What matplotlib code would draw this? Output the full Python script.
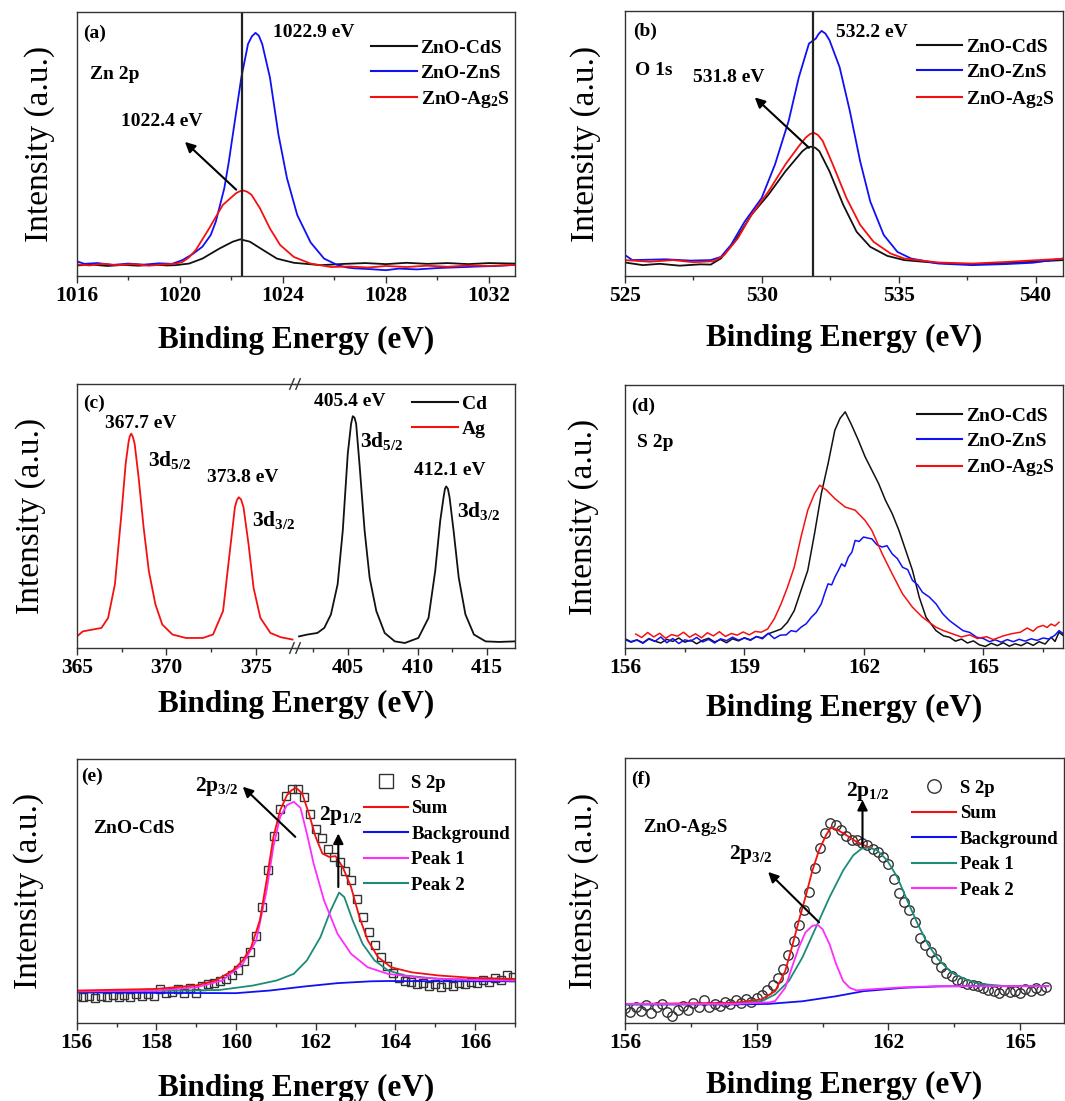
"""
XPS spectra of ZnO-CdS / ZnO-ZnS / ZnO-Ag2S, six panels (a)-(f).
Intensities are read off the published figure, in % of the panel height.
"""

import matplotlib
matplotlib.use("Agg")
import matplotlib.pyplot as plt
from matplotlib.lines import Line2D
from matplotlib.ticker import MultipleLocator

plt.rcParams["font.family"] = ["Liberation Serif", "DejaVu Serif"]
plt.rcParams["font.weight"] = "bold"
plt.rcParams["axes.labelweight"] = "bold"
plt.rcParams["mathtext.fontset"] = "custom"
plt.rcParams["mathtext.rm"] = "Liberation Serif:bold"
plt.rcParams["mathtext.it"] = "Liberation Serif:italic:bold"
plt.rcParams["mathtext.bf"] = "Liberation Serif:bold"

BLACK, BLUE, RED = "#111111", "#1010f5", "#f51010"
MAGENTA, TEAL = "#ff2cff", "#1e8a78"
AG2S = "ZnO-Ag$_{2}$S"

# ---- (a) Zn 2p ----
a_cds_x = [1016.0, 1016.6, 1017.2, 1017.8, 1018.4, 1019.0, 1019.5, 1019.83, 1020.36, 1020.88,
           1021.54, 1022.06, 1022.35, 1022.72, 1023.24, 1023.77, 1024.43, 1025.48, 1026.4, 1027.2,
           1028.0, 1028.8, 1029.6, 1030.4, 1031.2, 1032.0, 1033.0]
a_cds_y = [4.0, 4.3, 3.8, 4.2, 3.9, 4.3, 4.0, 4.1, 4.7, 6.6,
           10.4, 13.0, 13.9, 13.0, 9.8, 6.6, 5.0, 4.1, 4.6, 4.9,
           4.5, 5.0, 4.6, 4.9, 4.5, 4.9, 4.7]
a_zns_x = [1016.0, 1016.3, 1016.8, 1017.4, 1018.0, 1018.6, 1019.2, 1019.7, 1020.1, 1020.5,
           1020.88, 1021.2, 1021.4, 1021.73, 1021.9, 1022.06, 1022.39, 1022.65, 1022.8, 1022.94,
           1023.07, 1023.2, 1023.5, 1023.83, 1024.16, 1024.56, 1025.08, 1025.6, 1026.13, 1026.5,
           1026.8, 1027.4, 1028.0, 1028.5, 1029.2, 1030.0, 1030.8, 1031.6, 1032.3, 1033.0]
a_zns_y = [5.6, 4.6, 4.9, 4.2, 4.7, 4.3, 4.8, 4.6, 6.0, 8.3,
           11.1, 15.5, 20.6, 33.3, 43.0, 53.6, 75.2, 87.9, 90.8, 92.1,
           91.0, 87.9, 75.2, 53.6, 37.1, 23.1, 12.7, 6.6, 4.1, 3.2,
           2.9, 2.6, 2.2, 2.8, 2.5, 3.0, 3.3, 3.6, 3.8, 4.2]
a_ags_x = [1016.0, 1016.5, 1017.0, 1017.6, 1018.2, 1018.8, 1019.4, 1019.8, 1020.1, 1020.35,
           1020.62, 1021.14, 1021.67, 1022.19, 1022.33, 1022.46, 1022.62, 1022.78, 1023.11, 1023.5,
           1023.9, 1024.43, 1025.08, 1025.87, 1026.6, 1027.3, 1028.0, 1028.8, 1029.6, 1030.4,
           1031.2, 1032.0, 1033.0]
a_ags_y = [4.4, 4.0, 4.6, 4.1, 4.5, 3.9, 4.4, 4.6, 5.3, 7.0,
           9.8, 18.0, 26.9, 31.4, 32.1, 32.4, 31.9, 30.8, 25.7, 18.0,
           11.7, 7.2, 4.7, 3.4, 3.6, 3.2, 3.8, 3.4, 3.9, 3.5,
           4.0, 3.8, 4.2]

# ---- (b) O 1s ----
b_cds_x = [525.0, 525.65, 526.27, 527.0, 527.75, 528.13, 528.5, 529.0, 529.62, 530.24,
           530.86, 531.48, 531.63, 531.79, 531.95, 532.1, 532.47, 532.97, 533.46, 533.96,
           534.58, 535.2, 536.44, 537.68, 538.92, 539.9, 541.0]
b_cds_y = [5.1, 4.1, 4.6, 3.9, 4.4, 4.3, 6.6, 12.9, 23.1, 30.7,
           39.5, 47.1, 48.3, 48.8, 48.4, 47.1, 39.5, 26.9, 16.7, 11.0,
           7.6, 6.0, 4.9, 4.4, 4.9, 5.4, 6.0]
b_zns_x = [525.0, 525.27, 526.5, 527.4, 528.13, 528.5, 528.87, 529.37, 529.99, 530.48,
           530.98, 531.35, 531.72, 531.97, 532.07, 532.18, 532.32, 532.47, 532.84, 533.21,
           533.59, 533.96, 534.45, 534.95, 535.45, 536.44, 537.68, 538.92, 539.9, 541.0]
b_zns_y = [7.9, 6.0, 6.3, 5.8, 6.0, 7.2, 11.7, 20.5, 29.4, 42.1,
           58.6, 75.0, 87.7, 89.6, 91.3, 92.5, 91.5, 89.0, 78.8, 62.4,
           43.3, 28.1, 15.5, 9.1, 6.6, 4.7, 4.1, 4.5, 5.0, 6.6]
b_ags_x = [525.0, 525.9, 526.76, 527.5, 528.25, 528.62, 529.12, 529.62, 530.24, 530.86,
           531.35, 531.6, 531.75, 531.89, 532.05, 532.22, 532.59, 533.09, 533.59, 534.08,
           534.7, 535.2, 536.44, 537.68, 538.92, 539.9, 541.0]
b_ags_y = [6.0, 5.4, 6.0, 5.2, 5.6, 7.9, 14.2, 23.1, 31.9, 42.1,
           49.0, 52.2, 53.5, 54.1, 53.2, 51.0, 42.1, 29.4, 19.3, 12.9,
           8.5, 6.6, 5.1, 4.7, 5.3, 5.9, 6.5]

# ---- (c) Ag 3d (left of break) and Cd 3d (right of break) ----
c_ag_x = [365.02, 365.34, 366.38, 366.75, 367.13, 367.51, 367.73, 367.89, 367.96, 368.04,
          368.13, 368.23, 368.45, 368.73, 369.02, 369.39, 369.77, 370.34, 371.09, 372.03,
          372.6, 373.16, 373.54, 373.82, 373.93, 374.03, 374.16, 374.3, 374.58, 374.86,
          375.24, 375.8, 376.37, 377.03]
c_ag_y = [4.4, 6.3, 7.6, 11.4, 24.1, 52.0, 69.8, 78.0, 80.2, 81.2,
          80.0, 77.4, 64.7, 45.7, 29.2, 16.5, 8.9, 5.1, 3.8, 3.8,
          5.1, 14.0, 36.8, 53.3, 56.0, 57.1, 56.3, 53.3, 39.3, 22.8,
          11.4, 5.7, 4.1, 3.2]
c_cd_x = [401.49, 402.09, 402.81, 403.3, 403.78, 404.26, 404.63, 404.99, 405.23, 405.35,
          405.47, 405.59, 405.83, 406.2, 406.56, 407.04, 407.64, 408.37, 409.09, 410.06,
          410.79, 411.27, 411.63, 411.87, 411.97, 412.06, 412.18, 412.3, 412.59, 412.96,
          413.44, 414.05, 414.89, 415.86, 416.96]
c_cd_y = [4.4, 5.1, 5.7, 7.6, 12.7, 24.1, 44.4, 73.6, 85.0, 87.8,
          87.3, 85.0, 69.8, 44.4, 26.6, 14.0, 5.7, 2.5, 1.9, 3.8,
          11.4, 29.2, 48.2, 57.1, 60.3, 61.2, 60.3, 57.1, 44.4, 26.6,
          12.7, 5.1, 2.5, 2.3, 2.5]

# ---- (d) S 2p ----
d_cds_x = [156.0, 156.15, 156.3, 156.45, 156.6, 156.75, 156.9, 157.05, 157.2, 157.35,
           157.5, 157.65, 157.8, 157.95, 158.1, 158.25, 158.4, 158.55, 158.7, 158.85,
           159.0, 159.15, 159.3, 159.45, 159.58, 159.92, 160.08, 160.25, 160.42, 160.59,
           160.76, 160.93, 161.1, 161.27, 161.4, 161.53, 161.69, 161.86, 162.03, 162.2,
           162.37, 162.54, 162.71, 162.88, 163.05, 163.22, 163.39, 163.56, 163.81, 164.0,
           164.15, 164.3, 164.45, 164.6, 164.75, 164.9, 165.05, 165.2, 165.35, 165.5,
           165.65, 165.8, 165.95, 166.1, 166.25, 166.4, 166.55, 166.7, 166.8, 166.9, 167.0]
d_cds_y = [3.5, 2.4, 3.1, 2.0, 3.6, 2.6, 1.9, 3.3, 2.5, 3.8,
           2.2, 3.0, 1.6, 2.9, 3.7, 2.3, 3.2, 2.0, 3.5, 2.7,
           3.9, 3.1, 4.3, 3.8, 5.3, 7.2, 9.8, 14.2, 21.9, 29.5,
           43.5, 58.7, 70.1, 82.8, 87.3, 89.8, 84.8, 79.0, 72.7, 67.6,
           62.5, 56.2, 51.1, 44.7, 37.1, 29.5, 19.3, 11.7, 6.6, 4.6,
           4.1, 2.6, 3.4, 1.9, 2.7, 1.2, 0.6, 1.8, 0.9, 2.0,
           0.7, 1.6, 0.9, 2.1, 1.0, 2.4, 1.5, 4.1, 2.5, 6.0, 4.8]
d_zns_x = [156.0, 156.15, 156.3, 156.45, 156.6, 156.75, 156.9, 157.05, 157.2, 157.35,
           157.5, 157.65, 157.8, 157.95, 158.1, 158.25, 158.4, 158.55, 158.7, 158.85,
           159.0, 159.15, 159.3, 159.45, 159.6, 159.75, 159.9, 160.05, 160.17, 160.3,
           160.42, 160.55, 160.68, 160.8, 160.93, 161.02, 161.1, 161.19, 161.27, 161.36,
           161.44, 161.52, 161.61, 161.7, 161.78, 161.88, 161.99, 162.1, 162.2, 162.33,
           162.46, 162.58, 162.71, 162.84, 162.97, 163.1, 163.22, 163.35, 163.47, 163.64,
           163.81, 163.98, 164.15, 164.32, 164.49, 164.66, 164.83, 165.0, 165.15, 165.3,
           165.45, 165.6, 165.75, 165.9, 166.05, 166.2, 166.35, 166.5, 166.65, 166.8,
           166.9, 167.0]
d_zns_y = [3.2, 2.2, 3.0, 1.8, 3.4, 2.5, 4.2, 2.0, 3.6, 1.7,
           3.1, 2.6, 4.0, 2.3, 3.3, 1.9, 3.5, 2.8, 4.1, 3.0,
           3.8, 2.9, 4.4, 3.5, 5.6, 3.6, 4.9, 5.0, 6.6, 6.2,
           7.9, 9.2, 11.7, 13.5, 16.8, 21.0, 24.4, 24.0, 26.9, 29.5,
           32.0, 31.0, 34.6, 36.5, 40.9, 40.5, 42.2, 41.8, 41.5, 39.2,
           38.4, 38.9, 35.8, 34.0, 30.7, 29.8, 25.7, 24.0, 21.2, 19.4,
           16.8, 13.0, 10.4, 8.5, 6.6, 5.9, 4.1, 3.6, 2.4, 3.1,
           2.2, 3.2, 2.4, 3.3, 2.6, 3.5, 2.9, 3.8, 3.4, 4.9,
           6.6, 5.5]
d_ags_x = [156.27, 156.42, 156.57, 156.72, 156.87, 157.02, 157.17, 157.32, 157.47, 157.62,
           157.77, 157.92, 158.07, 158.22, 158.37, 158.52, 158.67, 158.82, 158.97, 159.12,
           159.27, 159.42, 159.58, 159.75, 159.92, 160.08, 160.25, 160.42, 160.59, 160.76,
           160.89, 161.06, 161.27, 161.53, 161.78, 162.03, 162.2, 162.46, 162.71, 162.97,
           163.22, 163.47, 163.81, 164.0, 164.24, 164.45, 164.66, 164.85, 165.08, 165.25,
           165.5, 165.7, 165.93, 166.1, 166.25, 166.36, 166.5, 166.6, 166.7, 166.8, 166.9]
d_ags_y = [5.3, 4.0, 5.9, 4.2, 5.6, 3.7, 5.1, 4.5, 6.0, 4.1,
           5.4, 3.9, 5.8, 4.6, 6.2, 4.4, 5.5, 4.9, 6.1, 5.0,
           6.3, 6.0, 7.2, 11.1, 16.8, 23.1, 30.7, 42.2, 52.4, 58.7,
           61.9, 60.0, 56.8, 53.6, 52.4, 48.5, 44.7, 35.8, 28.2, 20.6,
           15.5, 11.7, 7.9, 6.6, 5.3, 4.2, 5.0, 3.6, 4.3, 3.2,
           4.6, 5.4, 6.0, 7.6, 6.4, 7.9, 8.6, 7.8, 9.1, 8.4, 9.8]

# ---- (e) ZnO-CdS S 2p fit ----
e_meas_x = [156.0 + 0.15 * i for i in range(74)]
e_meas_y = [10.3, 9.8, 10.1, 9.6, 10.4, 9.9, 10.6, 10.0, 10.5, 9.7,
            10.8, 10.2, 11.0, 10.4, 13.0, 11.2, 11.8, 12.8, 11.5, 13.2,
            11.4, 14.0, 14.6, 15.3, 16.0, 16.8, 18.2, 20.0, 23.5, 27.0,
            33.0, 44.0, 58.0, 71.0, 81.0, 86.0, 88.5, 88.8, 85.7, 79.0,
            73.5, 70.0, 66.0, 63.0, 61.0, 57.5, 54.0, 47.0, 40.0, 34.5,
            29.5, 25.0, 21.5, 19.0, 17.0, 16.0, 15.4, 14.6, 15.2, 14.0,
            14.6, 13.8, 14.8, 14.1, 15.0, 14.6, 15.5, 15.1, 16.2, 15.6,
            17.0, 16.4, 18.2, 17.4]
e_sum_x = [156.0, 157.97, 158.99, 159.49, 159.92, 160.17, 160.38, 160.6, 160.77, 160.94,
           161.11, 161.28, 161.4, 161.51, 161.66, 161.83, 162.0, 162.17, 162.34, 162.5,
           162.68, 162.89, 163.1, 163.31, 163.57, 163.9, 164.41, 165.09, 165.94, 167.0]
e_sum_y = [12.3, 12.9, 14.2, 16.1, 19.9, 23.7, 28.7, 38.9, 54.1, 70.5,
           80.6, 86.3, 88.2, 89.1, 87.0, 79.4, 70.5, 64.2, 62.9, 63.2,
           59.1, 51.5, 40.1, 31.3, 24.9, 21.1, 19.2, 18.0, 17.1, 16.7]
e_bg_x = [156.0, 158.0, 160.0, 160.85, 161.7, 162.55, 163.4, 163.82, 165.0, 167.0]
e_bg_y = [11.6, 11.4, 11.3, 12.3, 13.8, 15.1, 15.8, 15.9, 15.8, 15.8]
e_p1_x = [156.0, 157.97, 158.99, 159.66, 160.17, 160.51, 160.77, 160.94, 161.11, 161.28,
          161.45, 161.62, 161.78, 161.95, 162.21, 162.55, 162.89, 163.31, 163.82, 164.67,
          165.94, 167.0]
e_p1_y = [12.0, 12.3, 13.5, 16.1, 22.4, 31.3, 50.3, 66.8, 78.1, 82.5,
          83.8, 81.5, 71.8, 60.4, 46.5, 33.8, 26.2, 21.1, 18.6, 17.1,
          16.3, 16.1]
e_p2_x = [156.0, 158.31, 159.58, 160.43, 161.02, 161.45, 161.78, 162.12, 162.38, 162.59,
          162.72, 162.93, 163.18, 163.48, 163.82, 164.24, 165.09, 167.0]
e_p2_y = [12.0, 12.2, 12.5, 14.2, 16.1, 18.6, 23.7, 32.5, 42.7, 49.4,
          47.7, 38.9, 30.0, 23.7, 19.9, 18.0, 16.7, 16.1]

# ---- (f) ZnO-Ag2S S 2p fit ----
f_meas_x = [156.0 + 0.12 * i for i in range(81)]
f_meas_y = [5.5, 4.0, 6.2, 4.6, 6.8, 3.8, 5.9, 7.1, 4.3, 2.6,
            5.0, 6.6, 4.8, 7.6, 5.9, 8.6, 6.2, 7.3, 6.4, 8.1,
            7.0, 8.8, 7.4, 9.0, 7.8, 9.6, 10.4, 12.3, 14.5, 17.0,
            20.3, 25.5, 30.8, 37.0, 42.8, 49.5, 58.5, 66.0, 71.8, 75.5,
            74.8, 73.0, 70.5, 69.0, 69.2, 68.0, 67.2, 65.8, 64.5, 62.8,
            60.0, 54.5, 49.0, 45.5, 42.5, 38.0, 32.0, 29.5, 26.8, 24.0,
            21.2, 19.0, 17.8, 16.2, 15.5, 14.8, 14.4, 13.9, 13.2, 12.6,
            11.9, 11.3, 12.5, 11.6, 12.2, 11.4, 12.8, 12.0, 13.2, 12.6,
            13.6]
f_sum_x = [156.0, 158.49, 159.11, 159.42, 159.65, 159.8, 159.96, 160.11, 160.27, 160.42,
           160.58, 160.69, 160.85, 161.04, 161.27, 161.5, 161.6]
f_sum_y = [7.2, 7.6, 8.9, 12.0, 19.6, 28.5, 38.6, 47.5, 57.6, 65.2,
           70.9, 73.8, 72.8, 70.9, 68.4, 66.7, 66.2]
f_bg_x = [156.0, 158.49, 159.26, 160.04, 160.81, 161.43, 162.36, 163.13, 163.9, 165.64]
f_bg_y = [7.0, 7.0, 7.2, 8.2, 10.1, 12.0, 13.3, 13.8, 13.9, 13.9]
f_p1_x = [156.0, 158.49, 159.11, 159.42, 159.73, 160.04, 160.35, 160.66, 160.97, 161.2,
          161.39, 161.55, 161.74, 161.97, 162.2, 162.43, 162.67, 162.9, 163.13, 163.44,
          163.75, 164.06, 164.68, 165.64]
f_p1_y = [7.0, 7.2, 8.2, 10.8, 15.8, 24.7, 36.1, 47.5, 57.6, 63.3,
          65.8, 66.2, 65.2, 61.4, 55.1, 46.2, 37.3, 29.7, 24.1, 19.0,
          16.5, 14.8, 13.9, 13.9]
f_p2_x = [156.0, 158.49, 159.3, 159.42, 159.65, 159.8, 159.96, 160.11, 160.27, 160.39,
          160.5, 160.66, 160.81, 160.97, 161.12, 161.27, 161.58, 162.36, 163.13, 163.9,
          165.64]
f_p2_y = [7.2, 7.2, 7.8, 8.3, 13.3, 20.9, 28.5, 34.2, 36.7, 37.0,
          35.4, 29.7, 22.2, 15.8, 13.3, 12.3, 12.7, 13.5, 13.9, 13.9,
          13.9]


def W(px):
    return px / 1065.0


def H(px):
    return px / 1101.0


def frame(ax, xlim, major, minor):
    ax.set_xlim(*xlim)
    ax.set_ylim(0, 100)
    ax.set_yticks([])
    ax.xaxis.set_major_locator(MultipleLocator(major))
    ax.xaxis.set_minor_locator(MultipleLocator(minor))
    ax.tick_params(axis="x", which="major", direction="out", length=5, width=1,
                   labelsize=15.5, pad=2, color="#333333")
    ax.tick_params(axis="x", which="minor", direction="out", length=3, width=1,
                   color="#333333")
    for s in ax.spines.values():
        s.set_linewidth(1.0)
        s.set_color("#333333")


def labels(ax, xlab_y, ylab_x):
    ax.set_xlabel("Binding Energy (eV)", fontsize=22.5)
    ax.xaxis.set_label_coords(0.5, xlab_y)
    ax.set_ylabel("Intensity (a.u.)", fontsize=24, fontweight="normal")
    ax.yaxis.set_label_coords(ylab_x, 0.5)


def legend(ax, entries, x0, ytop, size=14, gap=0.38):
    handles = [h for h, _ in entries]
    names = [n for _, n in entries]
    ax.legend(handles, names, loc="upper left", bbox_to_anchor=(x0, ytop),
              frameon=False, fontsize=size, handlelength=2.35, handletextpad=0.2,
              labelspacing=gap, borderpad=0, borderaxespad=0)


def line(color):
    return Line2D([], [], color=color, lw=1.5)


def arrow(ax, tail, head):
    ax.annotate("", xy=head, xytext=tail,
                arrowprops=dict(arrowstyle="-|>", color="k", lw=1.5,
                                mutation_scale=15, shrinkA=0, shrinkB=0))


LW = 1.3
fig = plt.figure(figsize=(10.65, 11.01), dpi=100)

# (a)
ax = fig.add_axes([W(76.7), 1 - H(276), W(438), H(264)])
frame(ax, (1016, 1033), 4, 2)
ax.plot(a_cds_x, a_cds_y, color=BLACK, lw=LW)
ax.plot(a_zns_x, a_zns_y, color=BLUE, lw=LW)
ax.plot(a_ags_x, a_ags_y, color=RED, lw=LW)
ax.axvline(1022.4, color="#222222", lw=1.6)
arrow(ax, (1022.19, 32.7), (1020.2, 50.8))
ax.text(1016.25, 92.0, "(a)", fontsize=14, va="center")
ax.text(1016.5, 76.5, "Zn 2p", fontsize=14, va="center")
ax.text(1019.3, 58.7, "1022.4 eV", fontsize=14, va="center", ha="center")
ax.text(1025.2, 92.1, "1022.9 eV", fontsize=14, va="center", ha="center")
legend(ax, [(line(BLACK), "ZnO-CdS"), (line(BLUE), "ZnO-ZnS"), (line(RED), AG2S)],
       0.672, 0.898)
labels(ax, -0.188, -0.05)

# (b)
ax = fig.add_axes([W(625), 1 - H(276), W(438), H(265)])
frame(ax, (525, 541), 5, 2.5)
ax.plot(b_cds_x, b_cds_y, color=BLACK, lw=LW)
ax.plot(b_zns_x, b_zns_y, color=BLUE, lw=LW)
ax.plot(b_ags_x, b_ags_y, color=RED, lw=LW)
ax.axvline(531.87, color="#222222", lw=1.6)
arrow(ax, (531.72, 48.4), (529.74, 67.4))
ax.text(525.3, 92.4, "(b)", fontsize=14, va="center")
ax.text(525.35, 77.6, "O 1s", fontsize=14, va="center")
ax.text(528.8, 74.8, "531.8 eV", fontsize=14, va="center", ha="center")
ax.text(534.0, 91.9, "532.2 eV", fontsize=14, va="center", ha="center")
legend(ax, [(line(BLACK), "ZnO-CdS"), (line(BLUE), "ZnO-ZnS"), (line(RED), AG2S)],
       0.666, 0.896)
labels(ax, -0.181, -0.055)

# (c) broken axis: two axes side by side
axl = fig.add_axes([W(76.7), 1 - H(648), W(295 - 76.7), H(264)])
axr = fig.add_axes([W(295), 1 - H(648), W(515 - 295), H(264)])
frame(axl, (365, 377.17), 5, 2.5)
frame(axr, (401.2, 417), 5, 2.5)
axl.spines["right"].set_visible(False)
axr.spines["left"].set_visible(False)
axr.patch.set_visible(False)
axl.plot(c_ag_x, c_ag_y, color=RED, lw=LW)
axr.plot(c_cd_x, c_cd_y, color=BLACK, lw=LW)
for off in (-0.014, 0.014):
    for yb in (0, 1):
        axr.plot([off - 0.01, off + 0.01], [yb - 0.02, yb + 0.02], transform=axr.transAxes,
                 color="#333333", lw=1, clip_on=False)
axl.text(365.35, 92.6, "(c)", fontsize=14, va="center")
axl.text(368.55, 85.0, "367.7 eV", fontsize=14, va="center", ha="center")
axl.text(369.0, 71.1, "3d$_{5/2}$", fontsize=15.5, va="center")
axl.text(374.26, 64.5, "373.8 eV", fontsize=14, va="center", ha="center")
axl.text(374.77, 48.6, "3d$_{3/2}$", fontsize=15.5, va="center")
axr.text(405.11, 93.3, "405.4 eV", fontsize=14, va="center", ha="center")
axr.text(405.9, 78.4, "3d$_{5/2}$", fontsize=15.5, va="center")
axr.text(412.35, 67.3, "412.1 eV", fontsize=14, va="center", ha="center")
axr.text(412.83, 51.8, "3d$_{3/2}$", fontsize=15.5, va="center")
legend(axr, [(line(BLACK), "Cd"), (line(RED), "Ag")], 0.532, 0.956)
axl.set_ylabel("Intensity (a.u.)", fontsize=24, fontweight="normal")
axl.yaxis.set_label_coords(-0.141, 0.5)
fig.text(W(296), 1 - H(704.6), "Binding Energy (eV)", fontsize=22.5, ha="center",
         va="center")

# (d)
ax = fig.add_axes([W(625), 1 - H(648), W(438), H(263)])
frame(ax, (156, 167), 3, 1.5)
ax.plot(d_cds_x, d_cds_y, color=BLACK, lw=1.1)
ax.plot(d_zns_x, d_zns_y, color=BLUE, lw=1.1)
ax.plot(d_ags_x, d_ags_y, color=RED, lw=1.1)
ax.text(156.15, 92.0, "(d)", fontsize=14, va="center")
ax.text(156.3, 78.0, "S 2p", fontsize=14, va="center")
legend(ax, [(line(BLACK), "ZnO-CdS"), (line(BLUE), "ZnO-ZnS"), (line(RED), AG2S)],
       0.666, 0.915)
labels(ax, -0.175, -0.059)

# (e)
ax = fig.add_axes([W(76.7), 1 - H(1023), W(438), H(264)])
frame(ax, (156, 167), 2, 1)
ax.plot(e_meas_x, e_meas_y, "s", mfc="none", mec="#333333", ms=6, mew=1)
ax.plot(e_bg_x, e_bg_y, color=BLUE, lw=LW)
ax.plot(e_p2_x, e_p2_y, color=TEAL, lw=LW)
ax.plot(e_p1_x, e_p1_y, color=MAGENTA, lw=LW)
ax.plot(e_sum_x, e_sum_y, color=RED, lw=LW)
arrow(ax, (161.49, 70.5), (160.17, 89.5))
arrow(ax, (162.57, 51.5), (162.57, 71.8))
ax.text(156.1, 93.3, "(e)", fontsize=14, va="center")
ax.text(156.4, 73.7, "ZnO-CdS", fontsize=14, va="center")
ax.text(158.97, 89.5, "2p$_{3/2}$", fontsize=15.5, va="center")
ax.text(162.08, 78.5, "2p$_{1/2}$", fontsize=15.5, va="center")
sq = Line2D([], [], ls="none", marker="s", mfc="none", mec="#333333", ms=9.5, mew=1)
legend(ax, [(sq, "S 2p"), (line(RED), "Sum"), (line(BLUE), "Background"),
            (line(MAGENTA), "Peak 1"), (line(TEAL), "Peak 2")], 0.655, 0.941,
       size=13.5, gap=0.45)
labels(ax, -0.193, -0.075)

# (f)
ax = fig.add_axes([W(625), 1 - H(1023), W(439), H(265)])
frame(ax, (156, 166), 3, 1.5)
ax.plot(f_meas_x, f_meas_y, "o", mfc="none", mec="#333333", ms=6.8, mew=1)
ax.plot(f_sum_x, f_sum_y, color=RED, lw=LW)
ax.plot(f_bg_x, f_bg_y, color=BLUE, lw=LW)
ax.plot(f_p1_x, f_p1_y, color=TEAL, lw=LW)
ax.plot(f_p2_x, f_p2_y, color=MAGENTA, lw=LW)
arrow(ax, (160.42, 38.0), (159.26, 57.0))
arrow(ax, (161.41, 66.5), (161.41, 84.2))
ax.text(156.15, 91.8, "(f)", fontsize=14, va="center")
ax.text(156.4, 73.8, AG2S, fontsize=13.5, va="center")
ax.text(158.37, 63.7, "2p$_{3/2}$", fontsize=15.5, va="center")
ax.text(161.04, 87.3, "2p$_{1/2}$", fontsize=15.5, va="center")
ci = Line2D([], [], ls="none", marker="o", mfc="none", mec="#333333", ms=9.7, mew=1)
legend(ax, [(ci, "S 2p"), (line(RED), "Sum"), (line(BLUE), "Background"),
            (line(TEAL), "Peak 1"), (line(MAGENTA), "Peak 2")], 0.654, 0.919,
       size=13.5, gap=0.45)
labels(ax, -0.181, -0.059)

fig.savefig("out.png", dpi=100)
